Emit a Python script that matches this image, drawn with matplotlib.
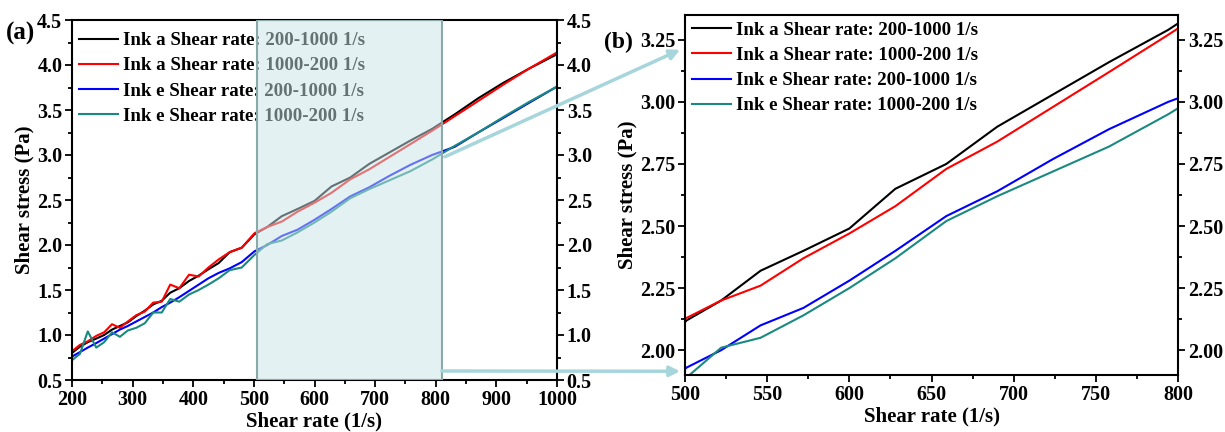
import matplotlib
matplotlib.use("Agg")
import matplotlib.pyplot as plt
from matplotlib.ticker import MultipleLocator, FormatStrFormatter
from matplotlib.patches import Rectangle

# shear rate (1/s) of each measured point
shear_rate = [200, 213, 226, 240, 253, 266, 279, 292, 306, 320, 334, 348,
              362, 377, 393, 409, 425, 442, 460, 480, 501, 522, 546, 572,
              600, 628, 659, 690, 724, 758, 794, 831, 870, 911, 954, 1000]

# shear stress (Pa)
ink_a_up = [0.80, 0.87, 0.92, 0.96, 1.00, 1.06, 1.10, 1.14, 1.21, 1.27, 1.34, 1.38,
            1.47, 1.52, 1.60, 1.66, 1.73, 1.80, 1.92, 1.97, 2.12, 2.20, 2.32, 2.40,
            2.49, 2.65, 2.75, 2.90, 3.03, 3.16, 3.29, 3.45, 3.63, 3.80, 3.96, 4.12]
ink_a_down = [0.82, 0.89, 0.93, 0.99, 1.03, 1.12, 1.08, 1.15, 1.22, 1.26, 1.36, 1.37,
              1.56, 1.52, 1.67, 1.65, 1.75, 1.84, 1.92, 1.97, 2.13, 2.20, 2.26, 2.37,
              2.47, 2.58, 2.73, 2.84, 2.98, 3.12, 3.27, 3.43, 3.60, 3.78, 3.96, 4.14]
ink_e_up = [0.76, 0.81, 0.86, 0.91, 0.96, 1.01, 1.06, 1.10, 1.15, 1.20, 1.25, 1.31,
            1.36, 1.42, 1.49, 1.56, 1.63, 1.69, 1.74, 1.81, 1.93, 2.00, 2.10, 2.17,
            2.28, 2.40, 2.54, 2.64, 2.77, 2.89, 3.00, 3.09, 3.25, 3.41, 3.58, 3.76]
ink_e_down = [0.72, 0.79, 1.04, 0.86, 0.92, 1.03, 0.98, 1.05, 1.08, 1.13, 1.25, 1.25,
              1.40, 1.37, 1.45, 1.50, 1.56, 1.63, 1.72, 1.75, 1.89, 2.01, 2.05, 2.14,
              2.25, 2.37, 2.52, 2.62, 2.72, 2.82, 2.95, 3.10, 3.25, 3.42, 3.59, 3.76]

labels = ["Ink a Shear rate: 200-1000 1/s", "Ink a Shear rate: 1000-200 1/s",
          "Ink e Shear rate: 200-1000 1/s", "Ink e Shear rate: 1000-200 1/s"]
colors = ["#000000", "#ff0000", "#0000ff", "#1a8a80"]
series = [ink_a_up, ink_a_down, ink_e_up, ink_e_down]

# zoomed window
zoom_x = (505, 810)

plt.rcParams["font.family"] = ["Liberation Serif", "DejaVu Serif"]
plt.rcParams["font.weight"] = "bold"
plt.rcParams["axes.labelweight"] = "bold"
plt.rcParams["axes.linewidth"] = 1.5

fig = plt.figure(figsize=(12.25, 4.32), dpi=100)
ax1 = fig.add_axes([72 / 1225, 1 - 380 / 432, 485 / 1225, 360 / 432])
ax2 = fig.add_axes([685 / 1225, 1 - 375 / 432, 493 / 1225, 360 / 432])


def style_axis(ax):
    ax.tick_params(which="both", direction="out", left=True, right=True,
                   labelright=True, top=False, labelsize=14.5, width=1.3,
                   pad=2)
    ax.tick_params(which="major", length=5)
    ax.tick_params(which="minor", length=3)
    ax.set_xlabel("Shear rate (1/s)", fontsize=15, labelpad=1)
    ax.set_ylabel("Shear stress (Pa)", fontsize=15, labelpad=2)


def add_legend(ax, top):
    ax.legend(loc="upper left", bbox_to_anchor=(0.0, top), frameon=False,
              fontsize=13.6, handlelength=2.1, handletextpad=0.25,
              labelspacing=0.42, borderaxespad=0.05, borderpad=0.3)


# (a) full range
for ys, c, lab in zip(series, colors, labels):
    ax1.plot(shear_rate, ys, color=c, lw=1.5, label=lab)
ax1.set_xlim(200, 1000)
ax1.set_ylim(0.5, 4.5)
ax1.xaxis.set_major_locator(MultipleLocator(100))
ax1.xaxis.set_minor_locator(MultipleLocator(50))
ax1.yaxis.set_major_locator(MultipleLocator(0.5))
ax1.yaxis.set_minor_locator(MultipleLocator(0.25))
ax1.yaxis.set_major_formatter(FormatStrFormatter("%.1f"))
style_axis(ax1)
add_legend(ax1, 0.985)
ax1.add_patch(Rectangle((zoom_x[0], 0.5), zoom_x[1] - zoom_x[0], 4.0,
                        facecolor="#c8e4e9", edgecolor="none", alpha=0.5,
                        zorder=6))
ax1.add_patch(Rectangle((zoom_x[0], 0.5), zoom_x[1] - zoom_x[0], 4.0,
                        facecolor="none", edgecolor="#8aa9a9", lw=1.5,
                        zorder=7))

# (b) zoomed range
for ys, c, lab in zip(series, colors, labels):
    ax2.plot(shear_rate, ys, color=c, lw=1.5, label=lab)
ax2.set_xlim(500, 800)
ax2.set_ylim(1.9, 3.35)
ax2.xaxis.set_major_locator(MultipleLocator(50))
ax2.xaxis.set_minor_locator(MultipleLocator(25))
ax2.yaxis.set_major_locator(MultipleLocator(0.25))
ax2.yaxis.set_minor_locator(MultipleLocator(0.125))
ax2.yaxis.set_major_formatter(FormatStrFormatter("%.2f"))
style_axis(ax2)
add_legend(ax2, 1.0)

# connector arrows from the shaded window to panel (b)
arrow = dict(arrowstyle="-|>,head_length=0.6,head_width=0.3",
             color="#a6d6dc", lw=2.5, shrinkA=0, shrinkB=0)
ax2.annotate("", xy=(497, 3.21), xycoords="data",
             xytext=(815, 2.98), textcoords=ax1.transData,
             arrowprops=arrow, annotation_clip=False)
ax2.annotate("", xy=(497, 1.915), xycoords="data",
             xytext=(810, 0.60), textcoords=ax1.transData,
             arrowprops=arrow, annotation_clip=False)

fig.text(6 / 1225, 1 - 33 / 432, "(a)", fontsize=18, weight="bold", va="center")
fig.text(604 / 1225, 1 - 42 / 432, "(b)", fontsize=17, weight="bold", va="center")

fig.savefig("out.png", dpi=100)
